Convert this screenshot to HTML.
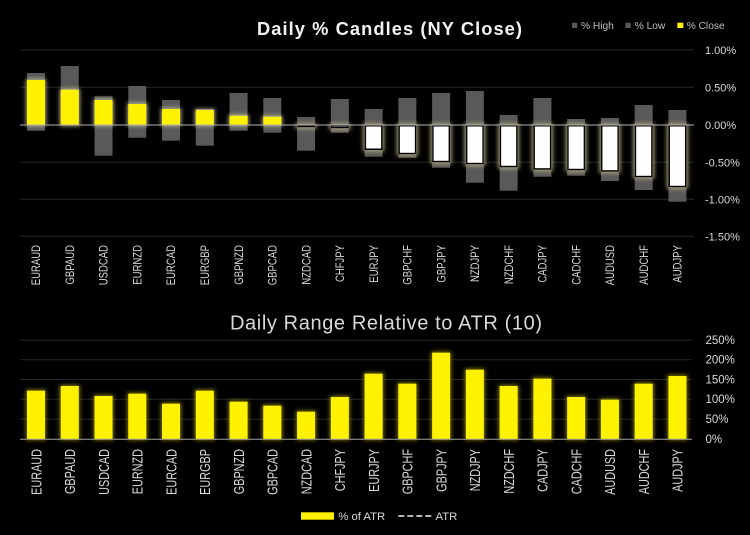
<!DOCTYPE html>
<html><head><meta charset="utf-8"><style>
html,body{margin:0;padding:0;background:#000;}
svg{display:block;}
text{font-family:"Liberation Sans",sans-serif;}
</style></head><body>
<svg width="750" height="535" viewBox="0 0 750 535" xmlns="http://www.w3.org/2000/svg">
<defs>
<filter id="gy" x="-60%" y="-60%" width="220%" height="220%">
 <feMorphology in="SourceAlpha" operator="dilate" radius="1" result="d"/>
 <feGaussianBlur in="d" stdDeviation="2" result="b"/>
 <feFlood flood-color="#cfc99a" flood-opacity="0.85"/>
 <feComposite in2="b" operator="in" result="g"/>
 <feMerge><feMergeNode in="g"/><feMergeNode in="SourceGraphic"/></feMerge>
</filter>
<filter id="gw" x="-60%" y="-60%" width="220%" height="220%">
 <feMorphology in="SourceAlpha" operator="dilate" radius="1.5" result="d"/>
 <feGaussianBlur in="d" stdDeviation="2.2" result="b"/>
 <feFlood flood-color="#b3ad84" flood-opacity="0.9"/>
 <feComposite in2="b" operator="in" result="g"/>
 <feMerge><feMergeNode in="g"/><feMergeNode in="SourceGraphic"/></feMerge>
</filter>
<filter id="gb" x="-60%" y="-60%" width="220%" height="220%">
 <feMorphology in="SourceAlpha" operator="dilate" radius="1" result="d"/>
 <feGaussianBlur in="d" stdDeviation="2.2" result="b"/>
 <feFlood flood-color="#8f8700" flood-opacity="0.9"/>
 <feComposite in2="b" operator="in" result="g"/>
 <feMerge><feMergeNode in="g"/><feMergeNode in="SourceGraphic"/></feMerge>
</filter>
<filter id="gd" x="-10%" y="-300%" width="120%" height="700%">
 <feGaussianBlur in="SourceGraphic" stdDeviation="2" result="b"/>
 <feMerge><feMergeNode in="b"/><feMergeNode in="SourceGraphic"/></feMerge>
</filter>
</defs>

<!-- TOP CHART -->
<text x="257" y="35" font-size="18.3" font-weight="bold" fill="#f2f2f2" textLength="265" lengthAdjust="spacing">Daily % Candles (NY Close)</text>

<!-- legend -->
<rect x="572" y="22.7" width="5.3" height="5.3" fill="#595959"/>
<text x="581" y="29" font-size="10.2" fill="#bfbfbf">% High</text>
<rect x="625.5" y="22.7" width="5.3" height="5.3" fill="#595959"/>
<text x="634.7" y="29" font-size="10.2" fill="#bfbfbf">% Low</text>
<rect x="677.3" y="22.7" width="6" height="5.3" fill="#fff200"/>
<text x="686.7" y="29" font-size="10.2" fill="#bfbfbf">% Close</text>

<!-- gridlines -->
<g stroke="#262626" stroke-width="1">
<line x1="20" y1="50" x2="694" y2="50"/>
<line x1="20" y1="87.3" x2="694" y2="87.3"/>
<line x1="20" y1="162.3" x2="694" y2="162.3"/>
<line x1="20" y1="199.3" x2="694" y2="199.3"/>
<line x1="20" y1="236.3" x2="694" y2="236.3"/>
</g>

<!-- grey high-low -->
<g fill="#595959">
<rect x="27" y="73" width="18" height="57.7"/>
<rect x="60.76" y="66" width="18" height="59"/>
<rect x="94.52" y="96.3" width="18" height="59.4"/>
<rect x="128.28" y="86" width="18" height="51.7"/>
<rect x="162.04" y="100" width="18" height="40.7"/>
<rect x="195.8" y="109" width="18" height="36.7"/>
<rect x="229.56" y="93" width="18" height="37.7"/>
<rect x="263.32" y="98" width="18" height="34.7"/>
<rect x="297.08" y="117" width="18" height="33.7"/>
<rect x="330.84" y="99" width="18" height="33.7"/>
<rect x="364.6" y="109" width="18" height="47.7"/>
<rect x="398.36" y="98" width="18" height="59.7"/>
<rect x="432.12" y="93" width="18" height="74.7"/>
<rect x="465.88" y="91" width="18" height="91.7"/>
<rect x="499.64" y="115" width="18" height="75.7"/>
<rect x="533.4" y="98" width="18" height="78.7"/>
<rect x="567.16" y="119" width="18" height="56.7"/>
<rect x="600.92" y="118" width="18" height="63"/>
<rect x="634.68" y="105" width="18" height="85"/>
<rect x="668.44" y="110" width="18" height="91.7"/>
</g>

<!-- yellow close -->
<g fill="#fff200" filter="url(#gy)">
<rect x="27" y="80" width="18" height="45"/>
<rect x="60.76" y="89.7" width="18" height="35.3"/>
<rect x="94.52" y="100" width="18" height="25"/>
<rect x="128.28" y="104" width="18" height="21"/>
<rect x="162.04" y="109" width="18" height="16"/>
<rect x="195.8" y="110" width="18" height="15"/>
<rect x="229.56" y="115.7" width="18" height="9.3"/>
<rect x="263.32" y="116.7" width="18" height="8.3"/>
</g>

<!-- white close -->
<g fill="#ffffff" stroke="#000" stroke-width="1.5" filter="url(#gw)">
<rect x="297.83" y="125.75" width="16.5" height="0.8"/>
<rect x="331.59" y="125.75" width="16.5" height="1.8"/>
<rect x="365.35" y="125.75" width="16.5" height="23.5"/>
<rect x="399.11" y="125.75" width="16.5" height="27.8"/>
<rect x="432.87" y="125.75" width="16.5" height="35.8"/>
<rect x="466.63" y="125.75" width="16.5" height="37.8"/>
<rect x="500.39" y="125.75" width="16.5" height="40.8"/>
<rect x="534.15" y="125.75" width="16.5" height="43.2"/>
<rect x="567.91" y="125.75" width="16.5" height="43.8"/>
<rect x="601.67" y="125.75" width="16.5" height="45.2"/>
<rect x="635.43" y="125.75" width="16.5" height="50.8"/>
<rect x="669.19" y="125.75" width="16.5" height="60.8"/>
</g>

<line x1="20" y1="125" x2="694" y2="125" stroke="#b0b0b0" stroke-width="1"/>

<!-- right axis labels top -->
<g font-size="11" fill="#d9d9d9">
<text x="705" y="54.2">1.00%</text>
<text x="705" y="91.5">0.50%</text>
<text x="705" y="129">0.00%</text>
<text x="705" y="166.3">-0.50%</text>
<text x="705" y="203.3">-1.00%</text>
<text x="705" y="240.3">-1.50%</text>
</g>

<!-- top x labels -->
<g font-size="11.5" fill="#d9d9d9" text-anchor="end">
<text transform="translate(40.2,245) rotate(-90) scale(0.83,1)">EURAUD</text>
<text transform="translate(73.96,245) rotate(-90) scale(0.83,1)">GBPAUD</text>
<text transform="translate(107.72,245) rotate(-90) scale(0.83,1)">USDCAD</text>
<text transform="translate(141.48,245) rotate(-90) scale(0.83,1)">EURNZD</text>
<text transform="translate(175.24,245) rotate(-90) scale(0.83,1)">EURCAD</text>
<text transform="translate(209,245) rotate(-90) scale(0.83,1)">EURGBP</text>
<text transform="translate(242.76,245) rotate(-90) scale(0.83,1)">GBPNZD</text>
<text transform="translate(276.52,245) rotate(-90) scale(0.83,1)">GBPCAD</text>
<text transform="translate(310.28,245) rotate(-90) scale(0.83,1)">NZDCAD</text>
<text transform="translate(344.04,245) rotate(-90) scale(0.83,1)">CHFJPY</text>
<text transform="translate(377.8,245) rotate(-90) scale(0.83,1)">EURJPY</text>
<text transform="translate(411.56,245) rotate(-90) scale(0.83,1)">GBPCHF</text>
<text transform="translate(445.32,245) rotate(-90) scale(0.83,1)">GBPJPY</text>
<text transform="translate(479.08,245) rotate(-90) scale(0.83,1)">NZDJPY</text>
<text transform="translate(512.84,245) rotate(-90) scale(0.83,1)">NZDCHF</text>
<text transform="translate(546.6,245) rotate(-90) scale(0.83,1)">CADJPY</text>
<text transform="translate(580.36,245) rotate(-90) scale(0.83,1)">CADCHF</text>
<text transform="translate(614.12,245) rotate(-90) scale(0.83,1)">AUDUSD</text>
<text transform="translate(647.88,245) rotate(-90) scale(0.83,1)">AUDCHF</text>
<text transform="translate(681.64,245) rotate(-90) scale(0.83,1)">AUDJPY</text>
</g>

<!-- BOTTOM CHART -->
<text x="230" y="329.3" font-size="20" fill="#d9d9d9" textLength="312" lengthAdjust="spacing">Daily Range Relative to ATR (10)</text>

<g stroke="#262626" stroke-width="1">
<line x1="20" y1="340.3" x2="692" y2="340.3"/>
<line x1="20" y1="359.8" x2="692" y2="359.8"/>
<line x1="20" y1="379.5" x2="692" y2="379.5"/>
<line x1="20" y1="399.3" x2="692" y2="399.3"/>
<line x1="20" y1="419.3" x2="692" y2="419.3"/>
</g>

<g fill="#fff200" filter="url(#gb)">
<rect x="27" y="390.7" width="18" height="48.3"/>
<rect x="60.76" y="386" width="18" height="53"/>
<rect x="94.52" y="396" width="18" height="43"/>
<rect x="128.28" y="393.7" width="18" height="45.3"/>
<rect x="162.04" y="403.7" width="18" height="35.3"/>
<rect x="195.8" y="390.7" width="18" height="48.3"/>
<rect x="229.56" y="401.7" width="18" height="37.3"/>
<rect x="263.32" y="405.7" width="18" height="33.3"/>
<rect x="297.08" y="411.7" width="18" height="27.3"/>
<rect x="330.84" y="397" width="18" height="42"/>
<rect x="364.6" y="373.7" width="18" height="65.3"/>
<rect x="398.36" y="383.7" width="18" height="55.3"/>
<rect x="432.12" y="352.7" width="18" height="86.3"/>
<rect x="465.88" y="369.7" width="18" height="69.3"/>
<rect x="499.64" y="386" width="18" height="53"/>
<rect x="533.4" y="378.7" width="18" height="60.3"/>
<rect x="567.16" y="397" width="18" height="42"/>
<rect x="600.92" y="399.7" width="18" height="39.3"/>
<rect x="634.68" y="383.7" width="18" height="55.3"/>
<rect x="668.44" y="376" width="18" height="63"/>
</g>

<line x1="35" y1="399.3" x2="677" y2="399.3" stroke="#f2f2f2" stroke-width="2" stroke-dasharray="6,3" filter="url(#gd)"/>

<line x1="20" y1="439.3" x2="692" y2="439.3" stroke="#a0a0a0" stroke-width="1"/>

<g font-size="11.5" fill="#d9d9d9">
<text x="705.5" y="344">250%</text>
<text x="705.5" y="363.5">200%</text>
<text x="705.5" y="383.3">150%</text>
<text x="705.5" y="403">100%</text>
<text x="705.5" y="423">50%</text>
<text x="705.5" y="443">0%</text>
</g>

<g font-size="14.5" fill="#d9d9d9" text-anchor="end">
<text transform="translate(41.3,449) rotate(-90) scale(0.75,1)">EURAUD</text>
<text transform="translate(75.06,449) rotate(-90) scale(0.75,1)">GBPAUD</text>
<text transform="translate(108.82,449) rotate(-90) scale(0.75,1)">USDCAD</text>
<text transform="translate(142.58,449) rotate(-90) scale(0.75,1)">EURNZD</text>
<text transform="translate(176.34,449) rotate(-90) scale(0.75,1)">EURCAD</text>
<text transform="translate(210.1,449) rotate(-90) scale(0.75,1)">EURGBP</text>
<text transform="translate(243.86,449) rotate(-90) scale(0.75,1)">GBPNZD</text>
<text transform="translate(277.62,449) rotate(-90) scale(0.75,1)">GBPCAD</text>
<text transform="translate(311.38,449) rotate(-90) scale(0.75,1)">NZDCAD</text>
<text transform="translate(345.14,449) rotate(-90) scale(0.75,1)">CHFJPY</text>
<text transform="translate(378.9,449) rotate(-90) scale(0.75,1)">EURJPY</text>
<text transform="translate(412.66,449) rotate(-90) scale(0.75,1)">GBPCHF</text>
<text transform="translate(446.42,449) rotate(-90) scale(0.75,1)">GBPJPY</text>
<text transform="translate(480.18,449) rotate(-90) scale(0.75,1)">NZDJPY</text>
<text transform="translate(513.94,449) rotate(-90) scale(0.75,1)">NZDCHF</text>
<text transform="translate(547.7,449) rotate(-90) scale(0.75,1)">CADJPY</text>
<text transform="translate(581.46,449) rotate(-90) scale(0.75,1)">CADCHF</text>
<text transform="translate(615.22,449) rotate(-90) scale(0.75,1)">AUDUSD</text>
<text transform="translate(648.98,449) rotate(-90) scale(0.75,1)">AUDCHF</text>
<text transform="translate(682.74,449) rotate(-90) scale(0.75,1)">AUDJPY</text>
</g>

<!-- bottom legend -->
<rect x="301" y="512.3" width="33" height="7.4" fill="#fff200"/>
<text x="338.3" y="520" font-size="11.3" fill="#d9d9d9">% of ATR</text>
<line x1="398.3" y1="516" x2="431.7" y2="516" stroke="#f2f2f2" stroke-width="1.6" stroke-dasharray="6,3"/>
<text x="435.5" y="520" font-size="11.3" fill="#d9d9d9">ATR</text>
</svg>
</body></html>
